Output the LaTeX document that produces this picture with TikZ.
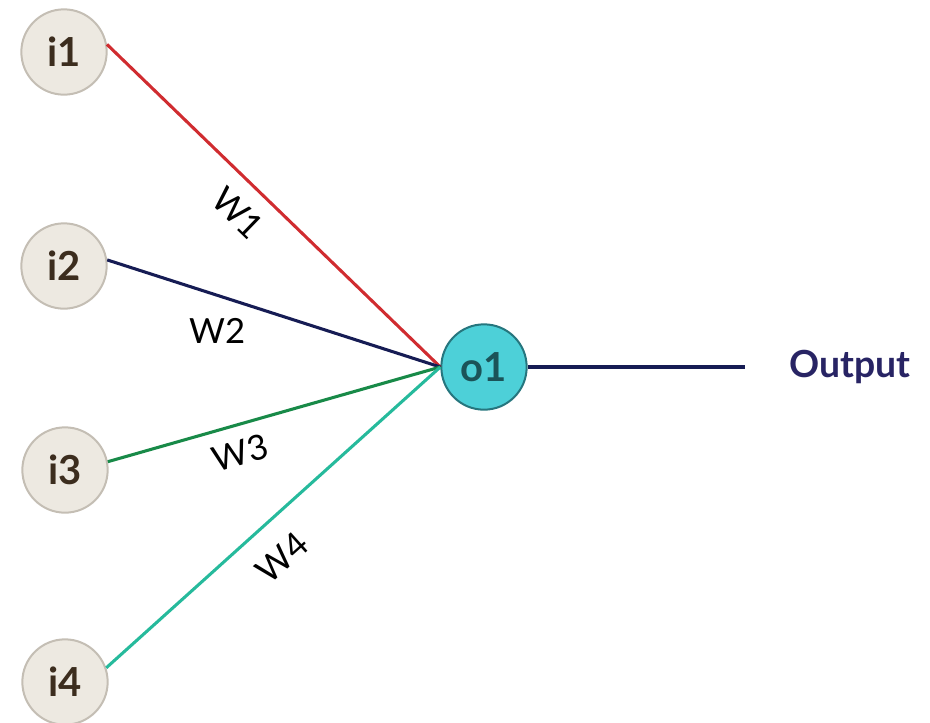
\documentclass[tikz,border=0pt]{standalone}
\usepackage{fontspec}
\setmainfont{Lato}
\usetikzlibrary{positioning}
\definecolor{inFill}{RGB}{237, 233, 225}
\definecolor{inLine}{RGB}{196, 190, 180}
\definecolor{inText}{RGB}{60, 45, 30}
\definecolor{outFill}{RGB}{77, 208, 216}
\definecolor{outLine}{RGB}{38, 118, 126}
\definecolor{wred}{RGB}{208, 44, 48}
\definecolor{wnavy}{RGB}{22, 28, 84}
\definecolor{wgreen}{RGB}{24, 138, 72}
\definecolor{wteal}{RGB}{38, 186, 156}
\definecolor{outText}{RGB}{40, 36, 100}

\begin{document}
\begin{tikzpicture}[x=0.75pt, y=-0.75pt]
    \tikzstyle{inode}=[circle, draw=inLine, line width=1.5pt, fill=inFill,
    minimum size=64pt, inner sep=0pt, text=inText,
    font=\fontsize{30}{30}\selectfont\bfseries]
    \tikzstyle{onode}=[circle, draw=outLine, line width=1.5pt, fill=outFill,
    minimum size=64pt, inner sep=0pt, text=outLine!70!black,
    font=\fontsize{30}{30}\selectfont\bfseries]
    \tikzstyle{weight}=[line width=2.3pt]
    \tikzstyle{wlabel}=[inner sep=0pt, text=black,
    font=\fontsize{26}{26}\selectfont]

    % Fix the page size
    \useasboundingbox (0, 0) rectangle (930, 722);

    % Input nodes
    \node [inode] (i1) at (64, 52)  {i1};
    \node [inode] (i2) at (64, 266) {i2};
    \node [inode] (i3) at (65, 470) {i3};
    \node [inode] (i4) at (65, 682) {i4};

    % Output node
    \node [onode] (o1) at (484, 367) {o1};

    % Draw the weighted connections
    \draw [weight, color=wred] (i1.10) -- (o1.west)
        node [wlabel, sloped, below=12pt, pos=0.455] (w1) {W1};
    \draw [weight, color=wnavy] (i2.8) -- (o1.west)
        node [wlabel, below=16pt, pos=0.33] (w2) {W2};
    \draw [weight, color=wgreen] (i3.11) -- (o1.west)
        node [wlabel, sloped, below=10pt, pos=0.375] (w3) {W3};
    \draw [weight, color=wteal] (i4.19) -- (o1.west)
        node [wlabel, sloped, below=16pt, pos=0.455] (w4) {W4};

    % Draw the output line
    \coordinate (oend) at (745, 367);
    \draw [weight, color=wnavy] (o1) -- (oend);
    \node [text=outText, font=\fontsize{28}{28}\selectfont\bfseries]
        (out) at (850, 367) {Output};

\end{tikzpicture}
\end{document}
